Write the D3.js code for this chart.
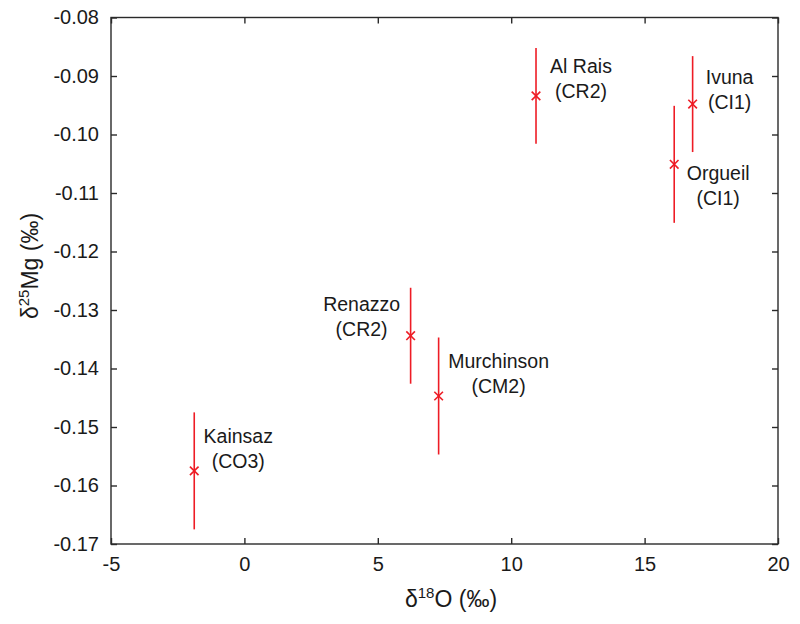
<!DOCTYPE html>
<html>
<head>
<meta charset="utf-8">
<script src="https://cdn.jsdelivr.net/npm/d3@7"></script>
<style>
  body { margin: 0; background: #fff; }
  svg text { font-family: "Liberation Sans", Arial, sans-serif; fill: #1a1a1a; }
</style>
</head>
<body>
<svg id="chart" width="800" height="624"></svg>
<script>
// ---- data ----
const names  = ["Kainsaz", "Renazzo", "Murchinson", "Al Rais", "Orgueil", "Ivuna"];
const groups = ["(CO3)", "(CR2)", "(CM2)", "(CR2)", "(CI1)", "(CI1)"];
const d18O   = [-1.88, 6.23, 7.28, 10.93, 16.11, 16.80];
const d25Mg  = [-0.1575, -0.1344, -0.1447, -0.0934, -0.1051, -0.0948];
const errMg  = [0.0100, 0.0082, 0.0100, 0.0082, 0.0100, 0.0082];
const xTicks = [-5, 0, 5, 10, 15, 20];
const yTicks = [-0.08, -0.09, -0.10, -0.11, -0.12, -0.13, -0.14, -0.15, -0.16, -0.17];

// label placement (layout only), offsets from the marker
const labelDx = [44, -49, 60, 45, 44, 37];
const labelDy = [-28, -25, -28, -23, 16, -20];

(function () {
const svg = d3.select("#chart");
const L = 111, R = 778, T = 17.5, B = 544;
const x = d3.scaleLinear().domain([-5, 20]).range([L, R]);
const y = d3.scaleLinear().domain([-0.17, -0.08]).range([B, T]);
const red = "#ee1c25";
const axisColor = "#2a2a2a";
const tk = 6;

// frame
svg.append("rect").attr("x", L).attr("y", T).attr("width", R - L).attr("height", B - T)
  .attr("fill", "none").attr("stroke", axisColor).attr("stroke-width", 1.4);

// axes with inward ticks
const gBottom = svg.append("g").attr("transform", `translate(0,${B})`)
  .call(d3.axisBottom(x).tickValues(xTicks).tickSize(-tk).tickPadding(tk + 7));
const gTop = svg.append("g").attr("transform", `translate(0,${T})`)
  .call(d3.axisTop(x).tickValues(xTicks).tickSize(-tk).tickFormat(""));
const gLeft = svg.append("g").attr("transform", `translate(${L},0)`)
  .call(d3.axisLeft(y).tickValues(yTicks).tickSize(-tk).tickPadding(tk + 6));
const gRight = svg.append("g").attr("transform", `translate(${R},0)`)
  .call(d3.axisRight(y).tickValues(yTicks).tickSize(-tk).tickFormat(""));

[gBottom, gTop, gLeft, gRight].forEach(g => {
  g.select(".domain").remove();
  g.selectAll(".tick line").attr("stroke", axisColor).attr("stroke-width", 1.4);
  g.selectAll(".tick text").attr("font-size", 20).attr("fill", "#1a1a1a")
    .style("font-family", "'Liberation Sans', Arial, sans-serif");
});
gLeft.selectAll(".tick text").text(d => d.toFixed(2));
gBottom.selectAll(".tick text").text(d => String(d));

// error bars
const idx = d3.range(names.length);
svg.append("g").selectAll("line").data(idx).join("line")
  .attr("x1", i => x(d18O[i])).attr("x2", i => x(d18O[i]))
  .attr("y1", i => y(d25Mg[i] + errMg[i])).attr("y2", i => y(d25Mg[i] - errMg[i]))
  .attr("stroke", red).attr("stroke-width", 1.6);

// x markers
const m = 4.3;
const mk = svg.append("g").selectAll("g").data(idx).join("g")
  .attr("transform", i => `translate(${x(d18O[i])},${y(d25Mg[i])})`);
mk.append("line").attr("x1", -m).attr("y1", -m).attr("x2", m).attr("y2", m)
  .attr("stroke", red).attr("stroke-width", 1.6);
mk.append("line").attr("x1", -m).attr("y1", m).attr("x2", m).attr("y2", -m)
  .attr("stroke", red).attr("stroke-width", 1.6);

// labels
const lab = svg.append("g").selectAll("text").data(idx).join("text")
  .attr("text-anchor", "middle").attr("font-size", 19.5)
  .attr("x", i => x(d18O[i]) + labelDx[i])
  .attr("y", i => y(d25Mg[i]) + labelDy[i]);
lab.append("tspan").text(i => names[i]);
lab.append("tspan").attr("x", i => x(d18O[i]) + labelDx[i]).attr("dy", 25).text(i => groups[i]);

// axis titles
const xt = svg.append("text").attr("x", 451).attr("y", 607).attr("text-anchor", "middle").attr("font-size", 23);
xt.append("tspan").text("δ");
xt.append("tspan").attr("font-size", 15).attr("dy", -9).text("18");
xt.append("tspan").attr("dy", 9).text("O (‰)");

const yt = svg.append("text").attr("transform", "translate(38,266) rotate(-90)")
  .attr("text-anchor", "middle").attr("font-size", 23);
yt.append("tspan").text("δ");
yt.append("tspan").attr("font-size", 15).attr("dy", -9).text("25");
yt.append("tspan").attr("dy", 9).text("Mg (‰)");
})();
</script>
</body>
</html>
